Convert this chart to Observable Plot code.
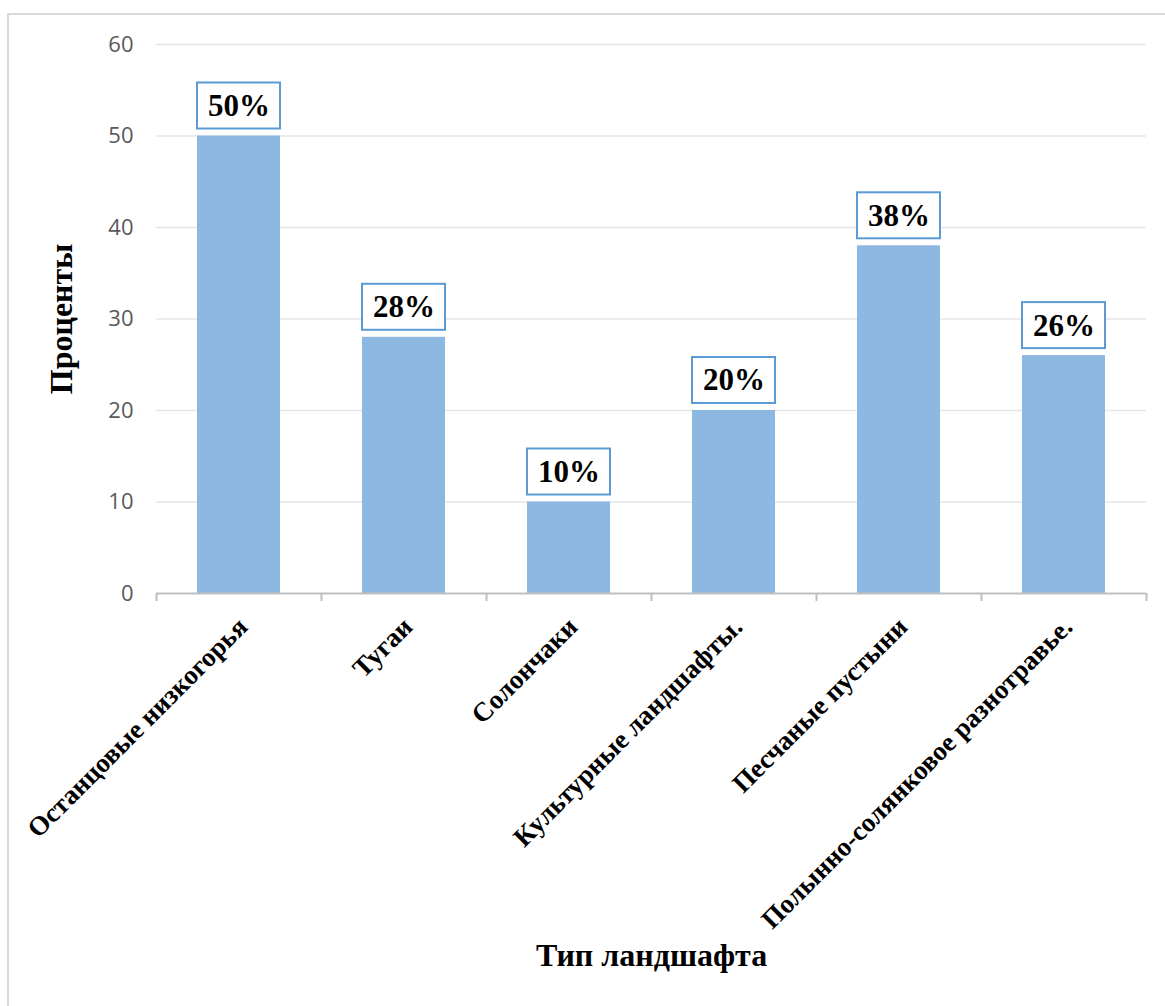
<!DOCTYPE html>
<html>
<head>
<meta charset="utf-8">
<script src="https://cdn.jsdelivr.net/npm/d3@7"></script>
<script src="https://cdn.jsdelivr.net/npm/@observablehq/plot@0.6"></script>
<style>
  html, body { margin: 0; padding: 0; background: #fff; overflow: hidden; }
  #wrap { position: relative; width: 1165px; height: 1006px; }
  #border { position: absolute; left: 7px; top: 13px; width: 1200px; height: 1100px; border: 2px solid #d9d9d9; box-sizing: border-box; }
  #chart { position: absolute; left: 0; top: 0; }
  g[aria-label="value-box"] rect { filter: drop-shadow(3px 3px 3px rgba(0,0,0,0.3)); }
</style>
</head>
<body>
<div id="wrap">
  <div id="border"></div>
  <div id="chart"></div>
</div>
<script>
// Landscape types and their shares, %
const categories = [
  "Останцовые низкогорья",
  "Тугаи",
  "Солончаки",
  "Культурные ландшафты.",
  "Песчаные пустыни",
  "Полынно-солянковое разнотравье."
];
const values = [50, 28, 10, 20, 38, 26];
const yTicks = [0, 10, 20, 30, 40, 50, 60];
const yTitle = "Проценты";
const xTitle = "Тип ландшафта";

const data = categories.map((c, i) => ({category: c, value: values[i]}));

const serif = "'Liberation Serif', 'Times New Roman', serif";
const step = 165;

const chart = Plot.plot({
  width: 1165,
  height: 1006,
  marginLeft: 156,
  marginRight: 19,
  marginTop: 44,
  marginBottom: 413,
  style: {background: "transparent", overflow: "visible"},
  x: {type: "band", domain: categories, paddingInner: 0.5, paddingOuter: 0.25, axis: null},
  y: {domain: [0, 60], axis: null},
  marks: [
    Plot.gridY(yTicks.filter(t => t > 0), {stroke: "#e6e6e6", strokeOpacity: 1, strokeWidth: 1.5}),
    Plot.axisY(yTicks, {
      tickSize: 0, tickPadding: 23, fontSize: 22, fill: "#595959",
      fontFamily: "'Open Sans', sans-serif", label: null
    }),
    Plot.barY(data, {x: "category", y: "value", fill: "#8DB8E1"}),
    // x axis baseline and boundary ticks
    Plot.ruleY([0], {stroke: "#bfbfbf", strokeWidth: 2}),
    Plot.ruleX(categories, {x: d => d, y1: 0, y2: 0, insetBottom: -8, dx: -step / 2, stroke: "#bfbfbf", strokeWidth: 2}),
    Plot.ruleX(categories.slice(-1), {x: d => d, y1: 0, y2: 0, insetBottom: -8, dx: step / 2, stroke: "#bfbfbf", strokeWidth: 2}),
    // category labels
    Plot.text(categories, {
      x: d => d, frameAnchor: "bottom", dx: 10, dy: 35, rotate: -45,
      textAnchor: "end", fontSize: 27, fontWeight: "bold", fontFamily: serif, fill: "black"
    }),
    // value callouts
    Plot.barY(data, {
      x: "category", y1: "value", y2: "value", insetTop: -53, insetBottom: 7,
      fill: "white", stroke: "#5B9BD5", strokeWidth: 2, ariaLabel: "value-box"
    }),
    Plot.text(data, {
      x: "category", y: "value", dy: -30, text: d => `${d.value}%`,
      fontSize: 31, fontWeight: "bold", fontFamily: serif, fill: "black"
    }),
    // axis titles
    Plot.text([yTitle], {
      frameAnchor: "left", dx: -95, rotate: -90, textAnchor: "middle",
      fontSize: 32, fontWeight: "bold", fontFamily: serif, fill: "black"
    }),
    Plot.text([xTitle], {
      frameAnchor: "bottom", dy: 372,
      fontSize: 32, fontWeight: "bold", fontFamily: serif, fill: "black"
    })
  ]
});

document.getElementById("chart").append(chart);
</script>
</body>
</html>
